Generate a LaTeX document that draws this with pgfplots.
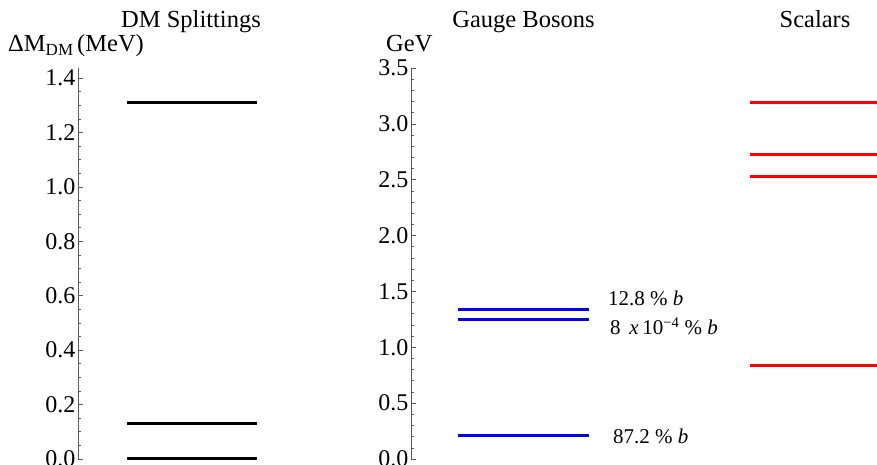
\documentclass[border=0pt]{standalone}
\usepackage{fontspec}
\setmainfont{Liberation Serif}
\usepackage{pgfplots}
\pgfplotsset{compat=1.18}
\begin{document}
\begin{tikzpicture}[x=1pt,y=1pt]
\pgfplotsset{
  lvl/.style={
    scale only axis, clip=false, anchor=south west,
    axis line style={draw=none},
    ytick style={black!65, line width=0.6pt},
    ytick pos=left, tick align=inside,
    major tick length=4.5pt, minor tick length=2.8pt,
    xtick=\empty,
    yticklabel style={font=\rmfamily\fontsize{24}{28}\selectfont, inner xsep=2.5pt},
    extra description/.code={\draw[black!65, line width=0.6pt] (rel axis cs:0,0) -- (rel axis cs:0,1);},
  },
  lev/.style={line width=3pt, no marks},
}
% DM splittings
\begin{axis}[lvl, at={(78pt,6pt)}, width=222pt, height=391pt,
  xmin=78, xmax=300, ymin=0, ymax=1.437,
  ytick={0,0.2,0.4,0.6,0.8,1.0,1.2,1.4},
  yticklabels={0.0,0.2,0.4,0.6,0.8,1.0,1.2,1.4}, minor y tick num=3]
\addplot[lev, black] coordinates {(127,0) (257,0)};
\addplot[lev, black] coordinates {(127,0.132) (257,0.132)};
\addplot[lev, black] coordinates {(127,1.312) (257,1.312)};
\end{axis}
% Gauge bosons
\begin{axis}[lvl, at={(411pt,6pt)}, width=289pt, height=391pt,
  xmin=411, xmax=700, ymin=0, ymax=3.5,
  ytick={0,0.5,1.0,1.5,2.0,2.5,3.0,3.5},
  yticklabels={0.0,0.5,1.0,1.5,2.0,2.5,3.0,3.5}, minor y tick num=4]
\addplot[lev, blue] coordinates {(458,0.206) (589,0.206)};
\addplot[lev, blue] coordinates {(458,1.253) (589,1.253)};
\addplot[lev, blue] coordinates {(458,1.334) (589,1.334)};
\node[anchor=base west, font=\fontsize{21}{24}\selectfont, inner sep=0pt] at (axis cs:608,1.370) {12.8 \% \textit{b}};
\node[anchor=base west, font=\fontsize{21}{24}\selectfont, inner sep=0pt] at (axis cs:610,1.110) {8 \,\textit{x}\,10\textsuperscript{−4} \% \textit{b}};
\node[anchor=base west, font=\fontsize{21}{24}\selectfont, inner sep=0pt] at (axis cs:613,0.143) {87.2 \% \textit{b}};
\end{axis}
% Scalars
\begin{axis}[scale only axis, clip=false, anchor=south west, hide axis, at={(700pt,6pt)}, width=177pt, height=391pt,
  xmin=700, xmax=877, ymin=0, ymax=3.5]
\addplot[lev, red] coordinates {(750,0.833) (880,0.833)};
\addplot[lev, red] coordinates {(750,2.53) (880,2.53)};
\addplot[lev, red] coordinates {(750,2.73) (880,2.73)};
\addplot[lev, red] coordinates {(750,3.187) (880,3.187)};
\end{axis}
% titles and units
\begin{scope}[every node/.style={inner sep=0pt, font=\fontsize{24.5}{28}\selectfont}]
\node[anchor=base] at (191,437) {DM Splittings};
\node[anchor=base] at (523.5,437) {Gauge Bosons};
\node[anchor=base] at (815,437) {Scalars};
\node[anchor=base west] at (8,413) {ΔM\raisebox{-0.35ex}{\fontsize{17}{19}\selectfont DM}\,(MeV)};
\node[anchor=base west] at (386,413) {GeV};
\end{scope}
\pgfresetboundingbox
\useasboundingbox (0,0) rectangle (877,465);
\end{tikzpicture}
\end{document}
